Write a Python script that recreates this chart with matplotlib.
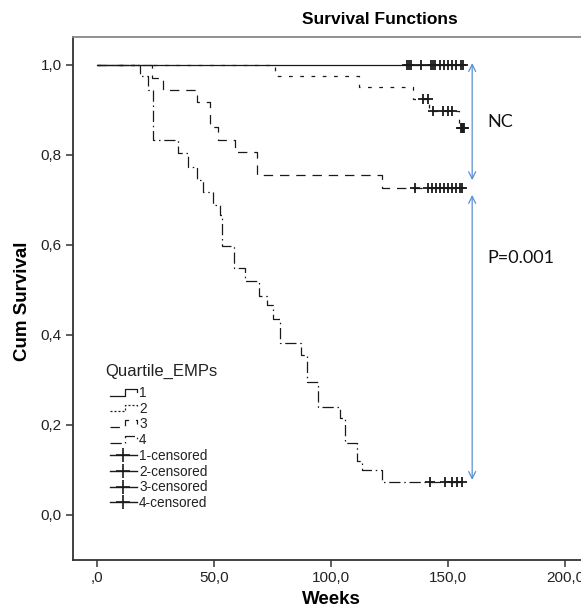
import numpy as np
import matplotlib
matplotlib.use("Agg")
import matplotlib.pyplot as plt
from matplotlib.lines import Line2D
from matplotlib.legend_handler import HandlerBase
import matplotlib.transforms as mtransforms

plt.rcParams['font.family'] = ['Liberation Sans', 'DejaVu Sans']

# ---------------- data ----------------
x_ticks = [0, 50, 100, 150, 200]
x_ticklabels = [",0", "50,0", "100,0", "150,0", "200,0"]
y_ticks = [0.0, 0.2, 0.4, 0.6, 0.8, 1.0]
y_ticklabels = ["0,0", "0,2", "0,4", "0,6", "0,8", "1,0"]

groups = ["1", "2", "3", "4"]

g1_times = [0]
g1_surv = [1.0]
g1_cens = [132.5, 133.3, 134.2, 138.5, 142.7, 143.6, 144.4, 146.6, 148.3,
           150.0, 151.7, 153.4, 155.6, 156.4]

g2_times = [0, 76, 112, 135, 142, 154.7]
g2_surv = [1.0, 0.976, 0.950, 0.924, 0.898, 0.860]
g2_cens = [139.3, 141.5, 143.6, 147.9, 150.0, 151.7, 155.5, 156.0, 156.5, 157.0]

g3_times = [0, 23.5, 28.2, 42.7, 48.3, 51.7, 59.0, 68.4, 121.8]
g3_surv = [1.0, 0.972, 0.944, 0.917, 0.861, 0.833, 0.806, 0.756, 0.727]
g3_cens = [136.0, 141.5, 143.2, 145.0, 146.6, 148.3, 150.0, 151.7, 153.4, 155.1, 156.0]

g4_times = [0, 18.4, 21.8, 23.9, 34.6, 38.9, 42.7, 45.3, 49.6, 52.6, 53.4, 58.5,
            63.2, 69.2, 72.6, 75.2, 78.2, 87.2, 89.7, 94.4, 103.8, 106.0, 111.0,
            113.2, 121.8]
g4_surv = [1.0, 0.976, 0.944, 0.833, 0.804, 0.773, 0.744, 0.718, 0.689, 0.667,
           0.598, 0.549, 0.520, 0.487, 0.467, 0.436, 0.382, 0.356, 0.296, 0.240,
           0.216, 0.160, 0.120, 0.100, 0.073]
g4_cens = [142.3, 148.7, 151.5, 154.0, 156.0]

p_text = ["NC", "P=0.001"]
legend_title = "Quartile_EMPs"

# ---------------- style ----------------
W, H = 581, 612
fig = plt.figure(figsize=(W / 100, H / 100), dpi=100)
ax = fig.add_axes([73 / W, 1 - 560 / H, 1 - 73 / W, (560 - 37) / H])
ax.set_xlim(-10.26, 206.8)
ax.set_ylim(-0.1, 1.062)

lc = "#1a1a1a"
styles = {
    "1": dict(linestyle="-"),
    "2": dict(linestyle=(0, (3.0, 6.0))),
    "3": dict(linestyle=(0, (7.5, 5.5))),
    "4": dict(linestyle=(0, (9.0, 3.0, 1.2, 3.0))),
}
data = {
    "1": (g1_times, g1_surv, g1_cens),
    "2": (g2_times, g2_surv, g2_cens),
    "3": (g3_times, g3_surv, g3_cens),
    "4": (g4_times, g4_surv, g4_cens),
}

def level_at(times, surv, t):
    i = np.searchsorted(np.asarray(times), t, side="right") - 1
    return np.asarray(surv)[i]

for g in ["4", "3", "2", "1"]:
    t, s, c = data[g]
    end = max(c)
    xs = list(t) + [end]
    ys = list(s) + [s[-1]]
    ax.plot(xs, ys, drawstyle="steps-post", color=lc, lw=0.9, **styles[g])
    cy = [level_at(t, s, ci) for ci in c]
    ax.plot(c, cy, linestyle="none", marker="+", markersize=7, mew=1.3, color=lc)

# axes styling
for sp in ["left", "bottom"]:
    ax.spines[sp].set_color("#333333")
    ax.spines[sp].set_linewidth(1.3)
ax.spines["top"].set_color("#888888")
ax.spines["top"].set_linewidth(1.3)
ax.spines["right"].set_visible(False)
ax.set_xticks(x_ticks)
ax.set_xticklabels(x_ticklabels)
ax.set_yticks(y_ticks)
ax.set_yticklabels(y_ticklabels)
ax.tick_params(direction="out", length=5, width=1.1, colors="#333333",
               labelsize=11, labelcolor="#222222", pad=3)

# labels
blend_x = mtransforms.blended_transform_factory(ax.transData, fig.transFigure)
ax.text(100, 1 - 600 / H, "Weeks", transform=blend_x, ha="center", va="center",
        fontsize=13.5, fontweight="bold")
blend_y = mtransforms.blended_transform_factory(fig.transFigure, ax.transData)
ax.text(23 / W, 0.475, "Cum Survival", transform=blend_y, ha="center", va="center",
        rotation=90, fontsize=13.5, fontweight="bold")
fig.text(380 / W, 1 - 20 / H, "Survival Functions", ha="center", va="center",
         fontsize=12.5, fontweight="bold")

# arrows
acol = "#5b8fd4"
xa = 160.3
top1 = g1_surv[-1] + 0.004
bot1 = g3_surv[-1] + 0.017
top2 = g3_surv[-1] - 0.016
bot2 = g4_surv[-1] + 0.005
for (ya, yb) in [(top1, bot1), (top2, bot2)]:
    ax.annotate("", xy=(xa, ya), xytext=(xa, yb),
                arrowprops=dict(arrowstyle="<->,head_length=0.5,head_width=0.25",
                                color=acol, lw=0.9, shrinkA=0, shrinkB=0))
ax.text(167, (top1 + bot1) / 2, p_text[0], fontsize=13, family=["Lato", "DejaVu Sans"],
        ha="left", va="center", color="#111111")
ax.text(167, 0.571, p_text[1], fontsize=13, family=["Lato", "DejaVu Sans"],
        ha="left", va="center", color="#111111")

# legend
class StepHandler(HandlerBase):
    def __init__(self, ls):
        super().__init__()
        self.ls = ls
    def create_artists(self, legend, orig_handle, xdescent, ydescent, width,
                       height, fontsize, trans):
        x0 = -xdescent
        y0 = -ydescent
        lo = y0 + 0.15 * height
        hi = y0 + 0.85 * height
        xs = [x0, x0 + 0.55 * width, x0 + 0.55 * width, x0 + width, x0 + width]
        ys = [lo, lo, hi, hi, y0 + 0.5 * height]
        l = Line2D(xs, ys, color=lc, lw=0.9, linestyle=self.ls)
        l.set_transform(trans)
        return [l]

class CensHandler(HandlerBase):
    def create_artists(self, legend, orig_handle, xdescent, ydescent, width,
                       height, fontsize, trans):
        x0 = -xdescent
        ym = -ydescent + 0.5 * height
        l = Line2D([x0, x0 + width], [ym, ym], color=lc, lw=1.0)
        m = Line2D([x0 + 0.5 * width], [ym], marker="+", markersize=10,
                   mew=1.2, color=lc, linestyle="none")
        l.set_transform(trans)
        m.set_transform(trans)
        return [l, m]

handles = []
labels = []
hmap = {}
for g in groups:
    h = Line2D([], [])
    handles.append(h)
    labels.append(g)
    hmap[h] = StepHandler((0, (1.6, 1.6)) if g == "2" else styles[g]["linestyle"])
for g in groups:
    h = Line2D([], [], marker="+")
    handles.append(h)
    labels.append(g + "-censored")
    hmap[h] = CensHandler()

leg = ax.legend(handles, labels, handler_map=hmap, title=legend_title,
                loc="upper left", bbox_to_anchor=(105 / W, 1 - 364 / H),
                bbox_transform=fig.transFigure, frameon=False, fontsize=9.8,
                title_fontsize=12, handlelength=2.0, handletextpad=0.15,
                labelspacing=0.125, borderpad=0, borderaxespad=0,
                alignment="left")
leg._legend_box.sep = 1.5
leg._legend_handle_box.pad = 3.5
for t in leg.get_texts():
    t.set_color("#222222")
leg.get_title().set_color("#222222")

fig.savefig("out.png", dpi=100)
